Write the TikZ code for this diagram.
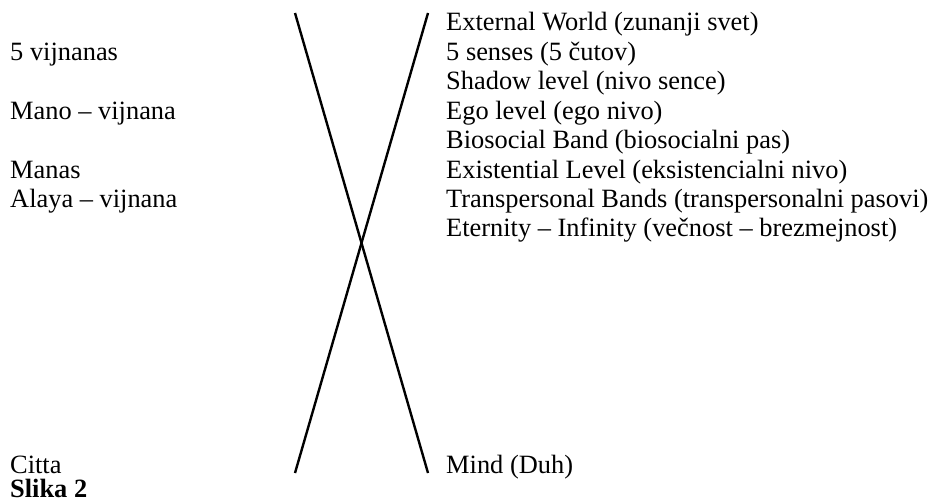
\documentclass[tikz,border=0pt]{standalone}
\usepackage{fontspec}
\setmainfont{Liberation Serif}
\begin{document}
\begin{tikzpicture}[x=1pt,y=-1pt,
  lbl/.style={anchor=base west,inner sep=0pt,font=\fontsize{26.4}{30}\selectfont},
  xline/.style={line width=2.4pt,black}]
\useasboundingbox (0,0) rectangle (933,503);
\def\rx{446}
\def\lx{10}
\node[lbl] (r1) at (\rx,31) {External World (zunanji svet)};
\node[lbl] (r2) at (\rx,60.4) {5 senses (5 čutov)};
\node[lbl] (r3) at (\rx,89.8) {Shadow level (nivo sence)};
\node[lbl] (r4) at (\rx,119.2) {Ego level (ego nivo)};
\node[lbl] (r5) at (\rx,148.6) {Biosocial Band (biosocialni pas)};
\node[lbl] (r6) at (\rx,178) {Existential Level (eksistencialni nivo)};
\node[lbl] (r7) at (\rx,207.4) {Transpersonal Bands (transpersonalni pasovi)};
\node[lbl] (r8) at (\rx,236.8) {Eternity – Infinity (večnost – brezmejnost)};
\node[lbl] (r9) at (\rx,473) {Mind (Duh)};
\node[lbl] (l2) at (\lx,60.4) {5 vijnanas};
\node[lbl] (l4) at (\lx,119.2) {Mano – vijnana};
\node[lbl] (l6) at (\lx,178) {Manas};
\node[lbl] (l7) at (\lx,207.4) {Alaya – vijnana};
\node[lbl] (l9) at (\lx,473) {Citta};
\node[lbl] (cap) at (\lx,497) {\bfseries Slika 2};
\coordinate (tl) at (295,13);
\coordinate (tr) at (428,13);
\coordinate (bl) at (295,473);
\coordinate (br) at (428,473);
\draw[xline] (tl) -- (br);
\draw[xline] (tr) -- (bl);
\end{tikzpicture}
\end{document}
